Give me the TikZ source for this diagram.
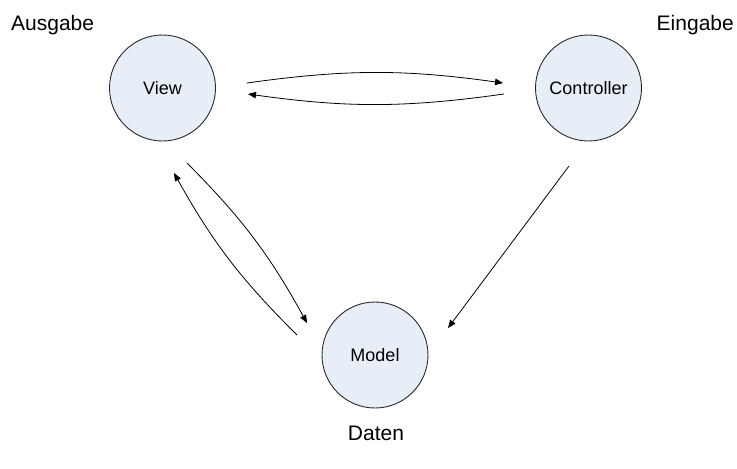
\documentclass[tikz,border=0pt]{standalone}
\usepackage{fontspec}
\setmainfont{Liberation Sans}
\usetikzlibrary{arrows.meta}
\definecolor{nodefill}{RGB}{232,238,248}
\definecolor{edgegray}{RGB}{40,40,40}
\tikzset{
  mvc/.style={circle, draw=edgegray, line width=0.9pt, fill=nodefill, minimum size=106pt, inner sep=0pt, font=\fontsize{18}{21}\selectfont},
  lbl/.style={font=\fontsize{21}{25}\selectfont, inner sep=0pt},
  arr/.style={line width=0.8pt, -{Triangle[length=8pt,width=6.5pt]}}
}
\begin{document}
\begin{tikzpicture}[x=1pt,y=-1pt]
\useasboundingbox (0,0) rectangle (737,469);
\node[mvc] (view) at (162.5,88) {View};
\node[mvc] (ctrl) at (588.5,88) {Controller};
\node[mvc] (model) at (375,355) {Model};
\node[lbl, anchor=base west] (ausgabe) at (11,30.5) {Ausgabe};
\node[lbl, anchor=base east] (eingabe) at (734,30.5) {Eingabe};
\node[lbl, anchor=base] (daten) at (376,440) {Daten};
% View <-> Controller
\draw[arr] ([shift={(84.5,-5)}]view.center) to[bend left=8] ([shift={(-85.5,-5)}]ctrl.center);
\draw[arr] ([shift={(-84.5,6)}]ctrl.center) to[bend left=8] ([shift={(85.5,6)}]view.center);
% View <-> Model
\draw[arr] ([shift={(24.5,75)}]view.center) to[bend left=8] ([shift={(-68,-32)}]model.center);
\draw[arr] ([shift={(-78,-20)}]model.center) to[bend left=8] ([shift={(11.5,85)}]view.center);
% Controller -> Model
\draw[arr] ([shift={(-19.5,78)}]ctrl.center) -- ([shift={(73,-27)}]model.center);
\end{tikzpicture}
\end{document}
